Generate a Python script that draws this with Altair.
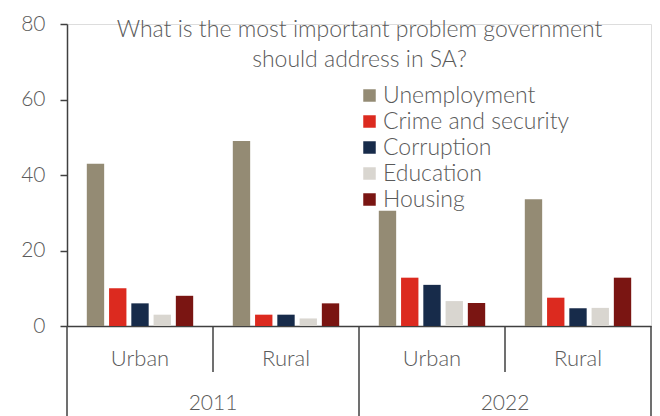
import altair as alt
import pandas as pd

years = ["2011", "2011", "2022", "2022"]
areas = ["Urban", "Rural", "Urban", "Rural"]
problems = ["Unemployment", "Crime and security", "Corruption", "Education", "Housing"]
colors = ["#948B74", "#DC2A1F", "#172B4A", "#D9D6D0", "#7A1512"]
unemployment = [43, 49, 30.5, 33.6]
crime = [10, 3, 12.8, 7.5]
corruption = [6, 3, 10.9, 4.7]
education = [3, 2, 6.6, 4.8]
housing = [8, 6, 6.1, 12.8]
y_ticks = [0, 20, 40, 60, 80]
title_lines = ["What is the most important problem government", "should address in SA?"]

series = [unemployment, crime, corruption, education, housing]
groups = [f"{y}|{a}" for y, a in zip(years, areas)]

rows = []
for p, vals in zip(problems, series):
    for g, v in zip(groups, vals):
        rows.append({"grp": g, "problem": p, "value": v})
df = pd.DataFrame(rows)

grp_df = pd.DataFrame({"grp": groups, "area": areas, "year": years})
year_df = grp_df[grp_df["area"] == "Rural"]          # year label sits at the Urban/Rural boundary
long_df = grp_df[grp_df["area"] == "Urban"]          # year dividers at the start of each year
short_df = grp_df[grp_df["area"] == "Rural"]         # area dividers
end_df = grp_df.tail(1)
title_df = pd.DataFrame({"t": ["\n".join(title_lines)]})

AX = "#404040"
TXT = "#5a5a5a"
FONT = "Lato"

xscale = alt.Scale(domain=groups, paddingInner=0, paddingOuter=0)

bars = alt.Chart(df).mark_bar().encode(
    x=alt.X("grp:N", scale=xscale,
            axis=alt.Axis(labels=False, ticks=False, title=None, domainColor=AX, domainWidth=1.5)),
    xOffset=alt.XOffset("problem:N", sort=problems,
                        scale=alt.Scale(domain=problems, paddingInner=0.22, paddingOuter=0.89)),
    y=alt.Y("value:Q", scale=alt.Scale(domain=[0, 80]),
            axis=alt.Axis(values=y_ticks, grid=False, title=None, tickSize=7, tickWidth=1.5,
                          tickColor=AX, domainColor=AX, domainWidth=1.5,
                          labelFontSize=21, labelColor=TXT, labelPadding=15,
                          labelFont=FONT, labelFontWeight=300)),
    color=alt.Color("problem:N", sort=problems, scale=alt.Scale(domain=problems, range=colors),
                    legend=alt.Legend(title=None, orient="none", legendX=291, legendY=60,
                                      symbolType="square", symbolSize=156, symbolStrokeWidth=0,
                                      labelFontSize=23, labelColor=TXT, labelFont=FONT,
                                      labelFontWeight=300, labelOffset=2, rowPadding=2,
                                      padding=0, labelLimit=400)),
)

area_labels = alt.Chart(grp_df).mark_text(fontSize=22, color=TXT, font=FONT, fontWeight=300,
                                          baseline="alphabetic", align="center").encode(
    x=alt.X("grp:N", scale=xscale), y=alt.value(342), text="area:N")

year_labels = alt.Chart(year_df).mark_text(fontSize=21, color=TXT, font=FONT, fontWeight=300,
                                           baseline="alphabetic", align="center").encode(
    x=alt.X("grp:N", scale=xscale, bandPosition=0), y=alt.value(385.5), text="year:N")

long_rules = alt.Chart(long_df).mark_rule(color=AX, strokeWidth=1.5).encode(
    x=alt.X("grp:N", scale=xscale, bandPosition=0), y=alt.value(302), y2=alt.value(392))
end_rule = alt.Chart(end_df).mark_rule(color=AX, strokeWidth=1.5).encode(
    x=alt.X("grp:N", scale=xscale, bandPosition=1), y=alt.value(302), y2=alt.value(392))
short_rules = alt.Chart(short_df).mark_rule(color=AX, strokeWidth=1.5).encode(
    x=alt.X("grp:N", scale=xscale, bandPosition=0), y=alt.value(302), y2=alt.value(348))

title = alt.Chart(title_df).mark_text(fontSize=23, color=TXT, font=FONT, fontWeight=300,
                                      baseline="alphabetic", align="center", lineBreak="\n",
                                      lineHeight=29.5).encode(
    x=alt.value(292.5), y=alt.value(13.3), text="t:N")

chart = alt.layer(bars, area_labels, year_labels, long_rules, end_rule, short_rules, title).properties(
    width=584, height=302,
    autosize=alt.AutoSizeParams(type="none"),
    padding={"left": 67, "top": 24, "right": 9, "bottom": 90},
).configure_view(stroke=None).configure(font=FONT)

chart.save("out.html", embed_options={"renderer": "svg", "actions": False})
